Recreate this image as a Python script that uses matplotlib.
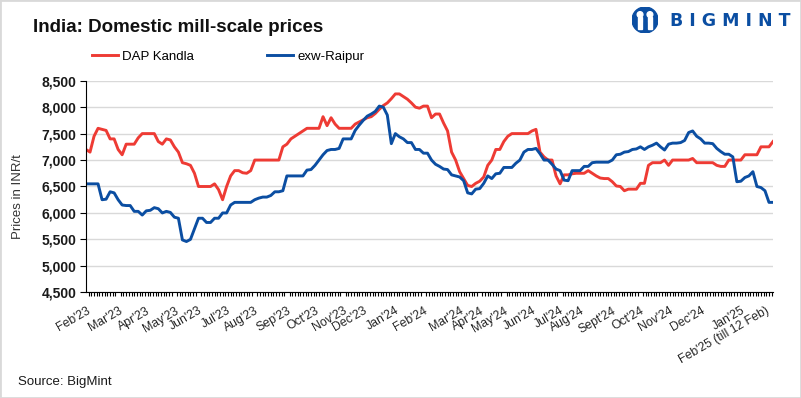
import numpy as np
import matplotlib.pyplot as plt
from matplotlib.patches import Circle, Rectangle
from matplotlib.ticker import MultipleLocator

plt.rcParams["font.family"] = ["Liberation Sans", "DejaVu Sans"]

RED = "#ee3b34"
BLUE = "#0b4ea2"

# one value per observation (category axis, irregular spacing per month)
dap_kandla = [
    7200, 7150, 7450, 7600, 7580, 7560, 7400, 7400, 7200, 7100,
    7300, 7300, 7300, 7420, 7500, 7500, 7500, 7500, 7350, 7300,
    7400, 7380, 7250, 7150, 6950, 6930, 6900, 6750, 6500, 6500,
    6500, 6500, 6550, 6440, 6250, 6500, 6700, 6800, 6800, 6760,
    6750, 6800, 7000, 7000, 7000, 7000, 7000, 7000, 7000, 7250,
    7300, 7400, 7450, 7500, 7550, 7600, 7600, 7600, 7600, 7820,
    7650, 7800, 7680, 7600, 7600, 7600, 7600, 7680, 7720, 7760,
    7800, 7820, 7880, 7960, 8030, 8080, 8160, 8250, 8250, 8200,
    8150, 8080, 8000, 7980, 8020, 8020, 7800, 7870, 7870, 7700,
    7550, 7150, 7000, 6780, 6650, 6520, 6500, 6560, 6600, 6680,
    6900, 7000, 7200, 7200, 7350, 7450, 7500, 7500, 7500, 7500,
    7500, 7550, 7580, 7150, 7060, 7000, 7000, 6700, 6550, 6720,
    6720, 6740, 6750, 6750, 6750, 6800, 6750, 6700, 6660, 6650,
    6650, 6590, 6510, 6500, 6420, 6450, 6450, 6450, 6560, 6560,
    6900, 6950, 6950, 6950, 7000, 6900, 7000, 7000, 7000, 7000,
    7000, 7030, 6950, 6950, 6950, 6950, 6950, 6900, 6880, 6880,
    7000, 7000, 7000, 7000, 7100, 7100, 7100, 7100, 7250, 7250,
    7250, 7350,
]

exw_raipur = [
    6550, 6550, 6550, 6550, 6250, 6260, 6400, 6380, 6250, 6150,
    6140, 6140, 6030, 6030, 5960, 6040, 6050, 6100, 6080, 6000,
    6030, 6010, 5920, 5900, 5490, 5460, 5500, 5700, 5900, 5900,
    5820, 5820, 5900, 5900, 6000, 6000, 6150, 6200, 6200, 6200,
    6200, 6200, 6250, 6280, 6300, 6300, 6330, 6400, 6400, 6420,
    6700, 6700, 6700, 6700, 6700, 6810, 6820, 6900, 7000, 7100,
    7180, 7200, 7200, 7220, 7400, 7400, 7400, 7560, 7660, 7750,
    7830, 7870, 7920, 8020, 8000, 7850, 7310, 7500, 7440, 7400,
    7330, 7330, 7200, 7200, 7130, 7130, 7000, 6920, 6880, 6830,
    6820, 6720, 6700, 6680, 6610, 6380, 6360, 6450, 6460, 6560,
    6700, 6650, 6740, 6750, 6860, 6860, 6860, 6940, 7000, 7150,
    7200, 7200, 7220, 7120, 7000, 7000, 6920, 6830, 6800, 6620,
    6610, 6800, 6800, 6800, 6880, 6880, 6950, 6960, 6960, 6960,
    6960, 7000, 7100, 7110, 7150, 7160, 7200, 7210, 7250, 7200,
    7250, 7280, 7320, 7250, 7190, 7300, 7320, 7320, 7330, 7370,
    7520, 7550, 7450, 7400, 7320, 7320, 7310, 7220, 7160, 7110,
    7110, 7060, 6590, 6600, 6670, 6700, 6780, 6500, 6480, 6420,
    6200, 6200,
]

month_labels = [
    "Feb'23", "Mar'23", "Apr'23", "May'23", "Jun'23", "Jul'23", "Aug'23",
    "Sep'23", "Oct'23", "Nov'23", "Dec'23", "Jan'24", "Feb'24", "Mar'24",
    "Apr'24", "May'24", "Jun'24", "Jul'24", "Aug'24", "Sept'24", "Oct'24",
    "Nov'24", "Dec'24", "Jan'25", "Feb'25 (till 12 Feb)",
]
month_start = [0, 8, 15, 22, 28, 35, 42, 50, 57, 64, 69, 77, 84, 93,
               98, 104, 111, 118, 123, 131, 138, 145, 153, 163, 169]

y_ticks = list(range(4500, 8501, 500))

W, H = 801, 398
fig = plt.figure(figsize=(W / 100, H / 100), dpi=100)
ax = fig.add_axes([86 / W, 1 - 292.3 / H, 687 / W, 211.6 / H])

x = np.arange(len(dap_kandla))
ax.plot(x, dap_kandla, color=RED, lw=2.1, label="DAP Kandla")
ax.plot(x, exw_raipur, color=BLUE, lw=2.1, label="exw-Raipur")

ax.set_xlim(0, len(x) - 1)
ax.set_ylim(4500, 8500)
ax.set_yticks(y_ticks, [f"{v:,}" for v in y_ticks], fontweight="bold",
              fontsize=10, color="#1a1a1a")
ax.set_xticks(month_start, month_labels, rotation=30, ha="right",
              rotation_mode="anchor", fontsize=8.8, color="#262626")
# the source axis has a tick for every daily entry, denser than this series
ax.xaxis.set_minor_locator(MultipleLocator(2 / 3))
ax.tick_params(axis="x", which="major", length=0, pad=9)
ax.tick_params(axis="x", which="minor", length=3, width=0.8)
ax.tick_params(axis="y", length=4, width=0.8, pad=3)
ax.yaxis.grid(True, color="#d9d9d9", lw=1)
ax.set_axisbelow(True)
for s in ("top", "right"):
    ax.spines[s].set_visible(False)
for s in ("left", "bottom"):
    ax.spines[s].set_linewidth(0.8)

fig.text(33 / W, 1 - 31.5 / H, "India: Domestic mill-scale prices",
         fontsize=13.5, fontweight="bold", va="baseline", color="#111111")
fig.legend(loc="center left", bbox_to_anchor=(92 / W, 1 - 57 / H), ncol=2,
           frameon=False, fontsize=9.5, handlelength=1.95, handletextpad=0.3,
           columnspacing=5.6, borderpad=0, borderaxespad=0)
fig.text(18 / W, 1 - 197 / H, "Prices in INR/t", rotation=90, va="center",
         ha="center", fontsize=9.5, color="#333333")
fig.text(18 / W, 1 - 382 / H, "Source: BigMint", va="center", fontsize=9.5,
         color="#1a1a1a")

# logo
lax = fig.add_axes([632 / W, 1 - 33 / H, 26 / W, 26 / H])
lax.set_xlim(-1, 1)
lax.set_ylim(-1, 1)
lax.set_aspect("equal")
lax.axis("off")
lax.add_patch(Circle((0, 0), 1, color=BLUE))
lax.add_patch(Circle((-0.38, 0.42), 0.22, color="white"))
lax.add_patch(Circle((0.38, 0.42), 0.22, color="white"))
lax.add_patch(Rectangle((-0.55, -0.7), 0.3, 0.9, color="white"))
lax.add_patch(Rectangle((0.25, -0.7), 0.3, 0.9, color="white"))
lax.add_patch(Rectangle((-0.1, -0.75), 0.2, 0.6, color=BLUE))
fig.text(670 / W, 1 - 21 / H, "B I G M I N T", family="DejaVu Sans",
         fontweight="bold", fontsize=12.5, color=BLUE, va="center")

fig.add_artist(Rectangle((0, 0), 1, 1, transform=fig.transFigure,
                         fill=False, edgecolor="#d9d9d9", lw=2))

fig.savefig("out.png", dpi=100)
